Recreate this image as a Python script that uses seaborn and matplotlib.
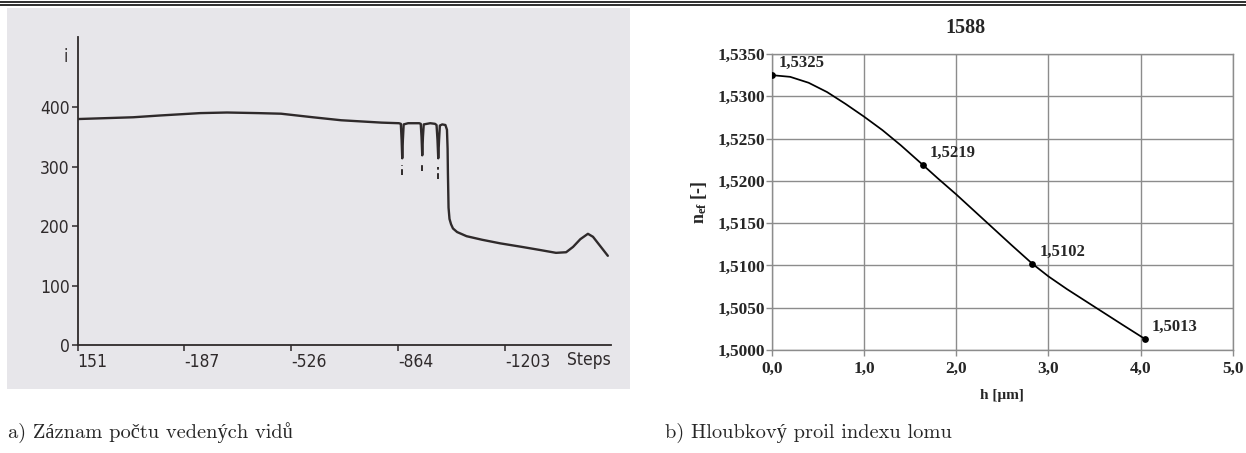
import matplotlib
matplotlib.use("Agg")
import matplotlib.pyplot as plt
from matplotlib import font_manager
from matplotlib.font_manager import FontProperties
from matplotlib.lines import Line2D
from matplotlib.patches import Rectangle
import pandas as pd
import seaborn as sns

# ---------------- a) prism-coupler scan: intensity vs. motor steps ----------------
scan_steps = [151, -25, -110, -237, -322, -420, -493, -594, -683, -811, -866,
              -872, -874.5, -876.5, -878.5, -881, -895, -930,
              -935, -937.5, -939.8, -942, -944.5, -965, -980,
              -985, -988, -990.4, -993, -995.5, -1003, -1013,
              -1018, -1020, -1021, -1022, -1023, -1026, -1031, -1037,
              -1050, -1080, -1129, -1186, -1255, -1310, -1363, -1395,
              -1417, -1440, -1464, -1480, -1505, -1527]
scan_intensity = [380, 383, 386, 390, 391, 390, 389, 383, 378, 374, 373,
                  372, 345, 314, 345, 371, 373, 373,
                  372, 350, 319, 350, 371, 373, 372,
                  370, 345, 314, 345, 369, 371, 370,
                  362, 330, 289, 260, 231, 212, 203, 196,
                  190, 183, 177, 171, 165, 160, 155, 156,
                  165, 178, 187, 182, 165, 150]
# short dashed tails printed under the three mode dips
dip_steps = [-876.5, -939.8, -990.4]
dip_tail_top = [303, 308, 299]
dip_tail_bottom = [286, 292, 280]

scan_xticks = [151, -187, -526, -864, -1203]
scan_xticklabels = ["151", "-187", "-526", "-864", "-1203"]
scan_yticks = [0, 100, 200, 300, 400]
scan_yticklabels = ["0", "100", "200", "300", "400"]

# ---------------- b) depth profile of the effective index ----------------
profile_h = [0.0, 0.2, 0.4, 0.6, 0.8, 1.0, 1.2, 1.4, 1.637, 1.8, 2.0, 2.2,
             2.4, 2.6, 2.825, 3.0, 3.2, 3.4, 3.6, 3.8, 4.046]
profile_n = [1.5325, 1.5323, 1.5316, 1.5305, 1.5291, 1.5276, 1.5260, 1.5242,
             1.5219, 1.5203, 1.5184, 1.5164, 1.5144, 1.5124, 1.5102, 1.5087,
             1.5072, 1.5058, 1.5044, 1.5030, 1.5013]
point_h = [0.0, 1.637, 2.825, 4.046]
point_n = [1.5325, 1.5219, 1.5102, 1.5013]

profile_title = "1588"
profile_xticks = [0, 1, 2, 3, 4, 5]
profile_xticklabels = ["0,0", "1,0", "2,0", "3,0", "4,0", "5,0"]
profile_yticks = [1.5000, 1.5050, 1.5100, 1.5150, 1.5200, 1.5250, 1.5300, 1.5350]
profile_yticklabels = ["1,5000", "1,5050", "1,5100", "1,5150",
                       "1,5200", "1,5250", "1,5300", "1,5350"]

caption_a = "a) Záznam počtu vedených vidů"
caption_b = "b) Hloubkový proil indexu lomu"

# ---------------- styling ----------------
sns.set_style("white")
plt.rcParams["font.family"] = ["Liberation Serif", "DejaVu Serif"]
plt.rcParams["mathtext.fontset"] = "custom"
plt.rcParams["mathtext.rm"] = "Liberation Serif:bold"
plt.rcParams["mathtext.it"] = "Liberation Serif:italic:bold"
plt.rcParams["mathtext.bf"] = "Liberation Serif:bold"

installed = {f.name for f in font_manager.fontManager.ttflist}
caption_fonts = ["cmr10", "Liberation Serif"] if "cmr10" in installed else ["Liberation Serif"]


def narrow_font():
    """Pick a condensed sans face for the instrument printout, if one exists."""
    best = None
    for f in font_manager.fontManager.ttflist:
        name = f.name.lower()
        stretch = str(f.stretch).lower()
        narrowish = ("condensed" in stretch or "narrow" in name
                     or "condensed" in name or "narrow" in f.fname.lower()
                     or "condensed" in f.fname.lower())
        if not narrowish or f.style != "normal":
            continue
        if f.weight not in (400, "normal", "regular", "book"):
            continue
        score = 0 if "sans" in name else 1
        if best is None or score < best[0]:
            best = (score, f.fname)
    return best[1] if best else None


_narrow_path = narrow_font()


def scan_font(size):
    if _narrow_path:
        return FontProperties(fname=_narrow_path, size=size)
    return FontProperties(family="DejaVu Sans", size=size)


W, H = 1246, 453
fig = plt.figure(figsize=(W / 100, H / 100), dpi=100)


def px_box(left, top, right, bottom):
    return [left / W, 1 - bottom / H, (right - left) / W, (bottom - top) / H]


# double rule along the top edge
for y in (1.5, 5.0):
    fig.add_artist(Line2D([0, 1], [1 - y / H] * 2, transform=fig.transFigure,
                          color="#1e1e1e", lw=1.3))

# grey scanned-printout backdrop of panel a)
fig.add_artist(Rectangle((7 / W, 1 - 389 / H), 623 / W, 381 / H,
                         transform=fig.transFigure, facecolor="#e7e6ea",
                         edgecolor="none", zorder=0))

# ---------------- panel a ----------------
ink = "#2f2a2b"
ax1 = fig.add_axes(px_box(77.5, 37, 611, 345))
ax1.patch.set_visible(False)
scan = pd.DataFrame({"steps": scan_steps, "intensity": scan_intensity})
sns.lineplot(data=scan, x="steps", y="intensity", sort=False, estimator=None,
             color=ink, lw=1.7, ax=ax1)
ax1.vlines(dip_steps, dip_tail_bottom, dip_tail_top, colors=ink, lw=1.4,
           linestyles=(0, (3.0, 1.8)))
ax1.set_xlim(151, -1537)
ax1.set_ylim(0, 518)
for side in ("top", "right"):
    ax1.spines[side].set_visible(False)
for side in ("left", "bottom"):
    ax1.spines[side].set_color(ink)
    ax1.spines[side].set_linewidth(1.3)
ax1.set_xticks(scan_xticks)
ax1.set_xticklabels(scan_xticklabels, ha="left")
ax1.set_yticks(scan_yticks)
ax1.set_yticklabels(scan_yticklabels)
ax1.tick_params(axis="both", length=4, width=1.1, color=ink, labelcolor=ink,
                pad=1.5, direction="out", bottom=True, left=True)
for lab in ax1.get_xticklabels() + ax1.get_yticklabels():
    lab.set_fontproperties(scan_font(12.5))
ax1.set_xlabel("Steps", fontproperties=scan_font(12.5), color=ink,
               ha="left", va="top")
ax1.xaxis.set_label_coords(0.9175, -0.018)
ax1.set_ylabel("i", fontproperties=scan_font(12.5), color=ink, rotation=0,
               ha="right", va="center")
ax1.yaxis.set_label_coords(-0.018, 0.935)

# ---------------- panel b ----------------
grid_c = "#8c8c8c"
ax2 = fig.add_axes(px_box(771.7, 54, 1233, 350))
ax2.set_facecolor("white")
sns.lineplot(x=profile_h, y=profile_n, sort=False, estimator=None,
             color="black", lw=1.25, ax=ax2)
sns.scatterplot(x=point_h, y=point_n, color="black", s=24, edgecolor="black",
                linewidth=0, zorder=5, ax=ax2)
for h, n in zip(point_h, point_n):
    ax2.annotate(f"{n:.4f}".replace(".", ","), (h, n), xytext=(5, 8.5),
                 textcoords="offset points", fontsize=12, fontweight="bold",
                 ha="left", va="center")
ax2.set_xlim(0, 5)
ax2.set_ylim(1.5000, 1.5350)
ax2.set_xticks(profile_xticks)
ax2.set_xticklabels(profile_xticklabels)
ax2.set_yticks(profile_yticks)
ax2.set_yticklabels(profile_yticklabels)
ax2.grid(True, color=grid_c, lw=1.0)
for side in ax2.spines.values():
    side.set_color(grid_c)
    side.set_linewidth(1.0)
ax2.tick_params(axis="both", length=4, width=1.0, color=grid_c, labelsize=12.5,
                direction="out", bottom=True, left=True)
ax2.tick_params(axis="x", pad=4)
ax2.tick_params(axis="y", pad=1)
for lab in ax2.get_xticklabels() + ax2.get_yticklabels():
    lab.set_fontweight("bold")
ax2.set_xlabel("h [μm]", fontsize=11, fontweight="bold", va="center")
ax2.xaxis.set_label_coords(0.5, -0.155)
ax2.set_ylabel(r"n$_{\mathrm{ef}}$ [-]", fontsize=13, fontweight="bold", va="center")
ax2.yaxis.set_label_coords(-0.158, 0.5)
fig.text(965 / W, 1 - 28 / H, profile_title, fontsize=14.5, fontweight="bold",
         ha="center", va="center")

# ---------------- captions ----------------
fig.text(8 / W, 1 - 433 / H, caption_a, family=caption_fonts, fontsize=14.7,
         ha="left", va="center")
fig.text(665 / W, 1 - 433 / H, caption_b, family=caption_fonts, fontsize=14.7,
         ha="left", va="center")

fig.savefig("out.png", dpi=100)
